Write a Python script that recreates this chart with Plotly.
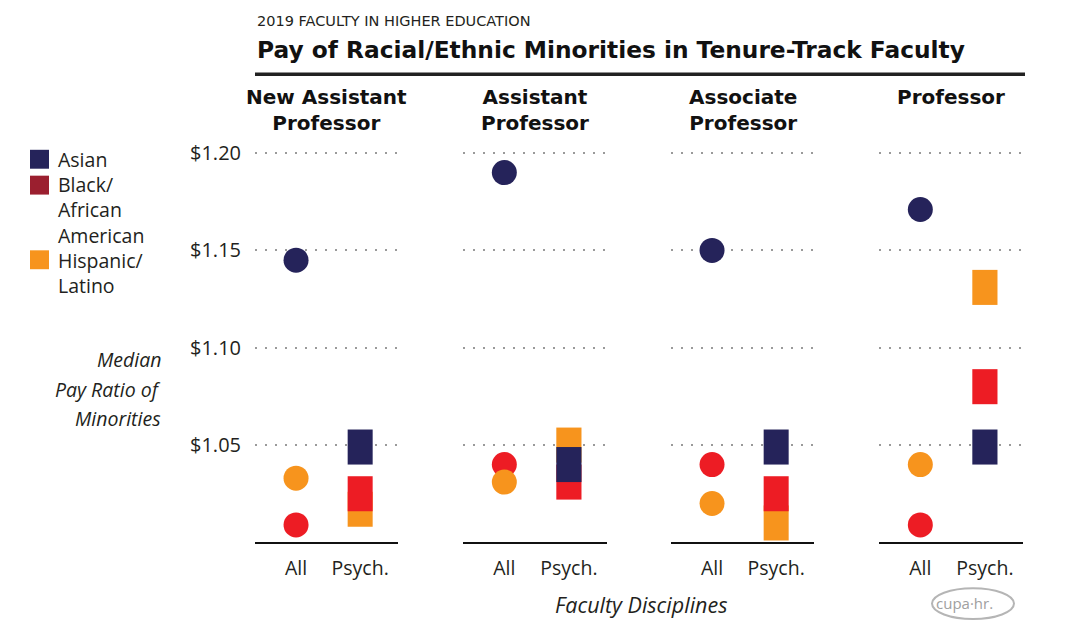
import plotly.graph_objects as go

W, H = 1089, 629

# ---- data ----
panels = ["New Assistant<br>Professor", "Assistant<br>Professor", "Associate<br>Professor", "Professor"]
disciplines = ["All", "Psych."]
all_asian = [1.145, 1.190, 1.150, 1.171]
all_black = [1.009, 1.040, 1.040, 1.009]
all_hisp = [1.033, 1.031, 1.020, 1.040]
psych_asian = [1.049, 1.040, 1.049, 1.049]
psych_black = [1.025, 1.031, 1.025, 1.080]
psych_hisp = [1.017, 1.050, 1.010, 1.131]
y_ticks = [1.05, 1.10, 1.15, 1.20]
y_tick_text = ["$1.05", "$1.10", "$1.15", "$1.20"]
groups = ["Asian", "Black/<br>African<br>American", "Hispanic/<br>Latino"]
y_title_lines = ["Median", "Pay Ratio of", "Minorities"]

# ---- style ----
NAVY = "#25235a"
RED = "#ed1c24"
LEGRED = "#9b1f2f"
ORANGE = "#f7941d"
TXT = "#231f20"
BODY = "'Open Sans', 'Noto Sans', sans-serif"
BOLD = "'DejaVu Sans', 'Liberation Sans', sans-serif"
HALF = 0.009   # half height of psych rectangles in data units
BARW = 0.39

def px(x):
    return x / W

def py(y):
    return 1 - y / H

x_doms = [(255, 398), (463, 607), (671, 814), (879, 1023)]
y_dom = [py(542), py(140)]
y_range = [1.0, 1.0 + 402 / 1956]

fig = go.Figure()

for i in range(4):
    xa = "x" if i == 0 else f"x{i+1}"
    ya = "y" if i == 0 else f"y{i+1}"
    for vals, col in [(psych_hisp, ORANGE), (psych_black, RED), (psych_asian, NAVY)]:
        fig.add_trace(go.Bar(
            x=[1], y=[2 * HALF], base=[vals[i] - HALF], width=BARW,
            marker=dict(color=col, line=dict(width=0)),
            xaxis=xa, yaxis=ya, showlegend=False, hoverinfo="skip"))
    for vals, col in [(all_asian, NAVY), (all_black, RED), (all_hisp, ORANGE)]:
        fig.add_trace(go.Scatter(
            x=[0], y=[vals[i]], mode="markers",
            marker=dict(color=col, size=25, symbol="circle", line=dict(width=0)),
            xaxis=xa, yaxis=ya, showlegend=False, cliponaxis=False, hoverinfo="skip"))

layout = dict(
    width=W, height=H,
    margin=dict(l=0, r=0, t=0, b=0),
    paper_bgcolor="white", plot_bgcolor="white",
    barmode="overlay", showlegend=False,
    font=dict(family=BODY, color=TXT),
)
for i in range(4):
    xk = "xaxis" if i == 0 else f"xaxis{i+1}"
    yk = "yaxis" if i == 0 else f"yaxis{i+1}"
    layout[xk] = dict(
        domain=[px(x_doms[i][0]), px(x_doms[i][1])],
        range=[-0.64, 1.59], anchor="y" if i == 0 else f"y{i+1}",
        tickvals=[0, 1], ticktext=disciplines, ticks="",
        showline=True, linecolor="#111", linewidth=2,
        showgrid=False, zeroline=False, fixedrange=True,
        tickfont=dict(size=19.5, color=TXT, family=BODY),
        ticklabelstandoff=7,
    )
    layout[yk] = dict(
        domain=y_dom, range=y_range,
        anchor="x" if i == 0 else f"x{i+1}",
        tickvals=y_ticks, ticktext=y_tick_text,
        showticklabels=(i == 0), ticks="",
        showgrid=True, gridcolor="#9a9a9a", gridwidth=1.5, griddash="2px,8px",
        zeroline=False, showline=False, fixedrange=True,
        tickfont=dict(size=20, color=TXT, family=BODY),
        ticklabelstandoff=13,
    )
fig.update_layout(**layout)

ann = []
ann.append(dict(x=px(255), y=py(18), xref="paper", yref="paper", xanchor="left", yanchor="middle",
                text="2019 FACULTY IN HIGHER EDUCATION", showarrow=False,
                font=dict(family=BOLD, size=14.5, color=TXT)))
ann.append(dict(x=px(255), y=py(47), xref="paper", yref="paper", xanchor="left", yanchor="middle",
                text="<b>Pay of Racial/Ethnic Minorities in Tenure-Track Faculty</b>", showarrow=False,
                font=dict(family=BOLD, size=23.3, color="#111")))
for i in range(4):
    cx = (x_doms[i][0] + x_doms[i][1]) / 2
    ann.append(dict(x=px(cx), y=py(80), xref="paper", yref="paper", xanchor="center", yanchor="top",
                    text=f"<b>{panels[i]}</b>", showarrow=False, align="center",
                    font=dict(family=BOLD, size=20, color="#111")))

shapes = []
leg_cols = [NAVY, LEGRED, ORANGE]
leg_box_y = [157, 183, 258]        # first-line centres
leg_text_y = [157, 207.5, 271]     # block centres
for g, c, by, ty in zip(groups, leg_cols, leg_box_y, leg_text_y):
    shapes.append(dict(type="rect", xref="paper", yref="paper",
                       x0=px(30), x1=px(49), y0=py(by + 9.5), y1=py(by - 9.5),
                       fillcolor=c, line=dict(width=0)))
    ann.append(dict(x=px(56), y=py(ty), xref="paper", yref="paper", xanchor="left", yanchor="middle",
                    text=g, showarrow=False, align="left",
                    font=dict(family=BODY, size=19.5, color=TXT)))
for t, yy in zip(y_title_lines, [358, 388, 417]):
    ann.append(dict(x=px(163), y=py(yy), xref="paper", yref="paper", xanchor="right", yanchor="middle",
                    text=f"<i>{t}</i>", showarrow=False,
                    font=dict(family=BODY, size=19.5, color=TXT)))
ann.append(dict(x=px(641), y=py(604), xref="paper", yref="paper", xanchor="center", yanchor="middle",
                text="<i>Faculty Disciplines</i>", showarrow=False,
                font=dict(family=BODY, size=21.5, color=TXT)))
ann.append(dict(x=px(964), y=py(603), xref="paper", yref="paper", xanchor="center", yanchor="middle",
                text="cupa·hr.", showarrow=False,
                font=dict(family=BODY, size=15, color="#a0a0a0")))
shapes.append(dict(type="circle", xref="paper", yref="paper",
                   x0=px(932), x1=px(1014), y0=py(619), y1=py(588),
                   line=dict(color="#b5b5b5", width=2)))
shapes.append(dict(type="line", xref="paper", yref="paper",
                   x0=px(255), x1=px(1025), y0=py(71.5), y1=py(71.5),
                   line=dict(color="#222", width=3.5)))

fig.update_layout(annotations=ann, shapes=shapes)
fig.write_html("out.html", config={"displayModeBar": False},
               post_script="document.body.style.margin='0px';")
